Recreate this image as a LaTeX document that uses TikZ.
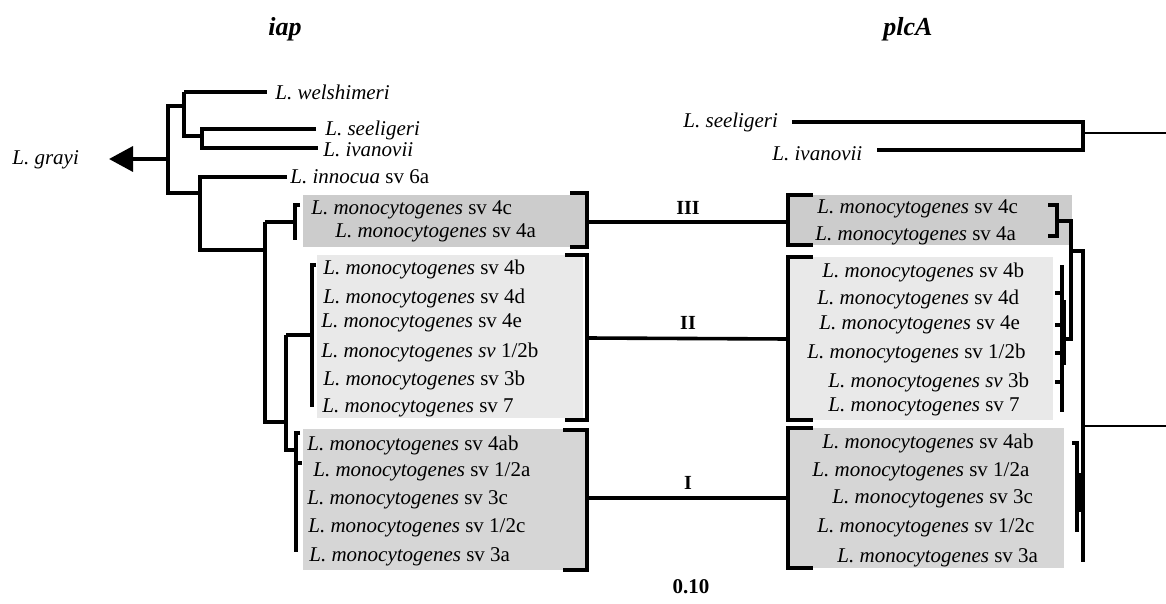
\documentclass[tikz,border=0pt]{standalone}
\usepackage{fontspec}
\setmainfont{Liberation Serif}
\usetikzlibrary{arrows.meta}
\definecolor{gIII}{RGB}{204,204,204}
\definecolor{gII}{RGB}{233,233,233}
\definecolor{gI}{RGB}{214,214,214}
\newcommand\Lmono{\textit{L. monocytogenes}}
\begin{document}
\begin{tikzpicture}[x=0.5pt,y=-0.5pt,
  br/.style={line width=1.8pt},
  thinline/.style={line width=1.2pt},
  lbl/.style={anchor=west,inner sep=0pt,font=\fontsize{10.5}{12}\selectfont},
  clade/.style={inner sep=0pt,font=\fontsize{10}{12}\selectfont\bfseries},
  title/.style={inner sep=0pt,font=\fontsize{13}{15}\selectfont\bfseries\itshape},
  boxIII/.style={fill=gIII,draw=none},
  boxII/.style={fill=gII,draw=none},
  boxI/.style={fill=gI,draw=none}]
\useasboundingbox (0,0) rectangle (1166,604);

% titles
\node[title] (tiap) at (285,29) {iap};
\node[title] (tplc) at (908,29) {plcA};

% boxes left
\fill[boxIII] (303,195) rectangle (587,247);
\fill[boxII] (317,255) rectangle (583,418);
\fill[boxI] (303,429) rectangle (587,570);
% boxes right
\fill[boxIII] (788,195) rectangle (1072,245);
\fill[boxII] (788,257) rectangle (1053,420);
\fill[boxI] (788,428) rectangle (1064,568);

% left outgroup labels
\node[lbl] (grayi) at (12,160) {\textit{L. grayi}};
\node[lbl] (welsh) at (275,92) {\textit{L. welshimeri}};
\node[lbl] (seelL) at (325,130) {\textit{L. seeligeri}};
\node[lbl] (ivanL) at (323,150) {\textit{L. ivanovii}};
\node[lbl] (innoc) at (290,177) {\textit{L. innocua} sv 6a};

% left clade labels
\node[lbl] (a4c) at (311,210) {\Lmono{} sv 4c};
\node[lbl] (a4a) at (335,233) {\Lmono{} sv 4a};
\node[lbl] (a4b) at (323,269) {\Lmono{} sv 4b};
\node[lbl] (a4d) at (323,298) {\Lmono{} sv 4d};
\node[lbl] (a4e) at (321,323) {\Lmono{} sv 4e};
\node[lbl] (a12b) at (321,352) {\textit{L. monocytogenes sv} 1/2b};
\node[lbl] (a3b) at (323,380) {\Lmono{} sv 3b};
\node[lbl] (a7) at (322,408) {\Lmono{} sv 7};
\node[lbl] (a4ab) at (307,445) {\Lmono{} sv 4ab};
\node[lbl] (a12a) at (313,472) {\Lmono{} sv 1/2a};
\node[lbl] (a3c) at (307,500) {\Lmono{} sv 3c};
\node[lbl] (a12c) at (308,528) {\Lmono{} sv 1/2c};
\node[lbl] (a3a) at (309,557) {\Lmono{} sv 3a};

% right labels
\node[lbl] (seelR) at (683,122) {\textit{L. seeligeri}};
\node[lbl] (ivanR) at (772,154) {\textit{L. ivanovii}};
\node[lbl] (b4c) at (817,209) {\Lmono{} sv 4c};
\node[lbl] (b4a) at (815,236) {\Lmono{} sv 4a};
\node[lbl] (b4b) at (822,272) {\Lmono{} sv 4b};
\node[lbl] (b4d) at (817,299) {\Lmono{} sv 4d};
\node[lbl] (b4e) at (819,325) {\Lmono{} sv 4e};
\node[lbl] (b12b) at (807,353) {\Lmono{} sv 1/2b};
\node[lbl] (b3b) at (828,382) {\textit{L. monocytogenes sv} 3b};
\node[lbl] (b7) at (828,407) {\Lmono{} sv 7};
\node[lbl] (b4ab) at (822,443) {\Lmono{} sv 4ab};
\node[lbl] (b12a) at (812,472) {\Lmono{} sv 1/2a};
\node[lbl] (b3c) at (832,499) {\Lmono{} sv 3c};
\node[lbl] (b12c) at (817,528) {\Lmono{} sv 1/2c};
\node[lbl] (b3a) at (837,558) {\Lmono{} sv 3a};

% clade numerals and scale
\node[clade] (cIII) at (688,208) {III};
\node[clade] (cII) at (688,323) {II};
\node[clade] (cI) at (688,483) {I};
\node[clade,font=\fontsize{10.5}{12}\selectfont\bfseries] (scale) at (691,587) {0.10};

% ---------- left tree ----------
\coordinate (root) at (168,159);
\coordinate (gtip) at (109,159);
\draw[br,-{Triangle[length=12pt,width=12.5pt]}] (root) -- (gtip);
\draw[br] (184,92) -- (267,92);
\draw[br] (168,193) |- (184,106) |- (184,92);
\draw[br] (184,106) |- (202,136);
\draw[br] (316,129) -| (202,148) -- (318,148);
\draw[br] (168,159) -- (168,193) -- (200,193);
\draw[br] (287,177) -| (200,250) -- (265,250);
\draw[br] (265,222) -- (265,422) -- (286,422);
\draw[br] (265,222) -- (295,222);
\draw[br] (300,205) -- (295,205) -- (295,240);
\draw[br] (286,335) -- (286,450) -- (296,450);
\draw[br] (286,335) -- (312,335);
\draw[br] (316,265) -- (312,265) -- (312,407);
\draw[br] (300,433) -- (296,433) -- (296,552);
\draw[br] (296,463) -- (302,463);

% right brackets of left boxes and connectors
\coordinate (LIII) at (587,222);
\coordinate (LII) at (587,338);
\coordinate (LI) at (587,498);
\coordinate (RIII) at (788,222);
\coordinate (RII) at (788,339);
\coordinate (RI) at (788,498);
\draw[br] (570,193) -- (587,193) -- (587,247) -- (570,247);
\draw[br] (565,255) -- (587,255) -- (587,420) -- (565,420);
\draw[br] (563,430) -- (587,430) -- (587,570) -- (563,570);
\draw[br] (LIII) -- (RIII);
\draw[br] (LII) -- (RII);
\draw[br] (LI) -- (RI);
\draw[br] (813,195) -- (788,195) -- (788,245) -- (813,245);
\draw[br] (813,257) -- (788,257) -- (788,420) -- (813,420);
\draw[br] (813,428) -- (788,428) -- (788,568) -- (813,568);

% ---------- right tree ----------
\draw[br] (792,122) -- (1083,122) -- (1083,150) -- (877,150);
\draw[thinline] (1083,133) -- (1166,133);
\draw[br] (1048,205) -- (1057,205) -- (1057,236) -- (1048,236);
\draw[br] (1057,221) -- (1071,221) -- (1071,339) -- (1062,339);
\draw[br] (1071,251) -- (1083,251) -- (1083,562);
\draw[thinline] (1083,426) -- (1166,426);
\draw[br] (1062,265) -- (1062,412);
\foreach \yy in {293,325,353,382} \draw[br] (1055,\yy) -- (1062,\yy);
\draw[line width=2.5pt] (1063,300) -- (1063,365);
\draw[br] (1072,443) -- (1077,443) -- (1077,532);
\draw[line width=3pt] (1079,473) -- (1079,512);
\draw[br] (1077,490) -- (1083,490);
\end{tikzpicture}
\end{document}
